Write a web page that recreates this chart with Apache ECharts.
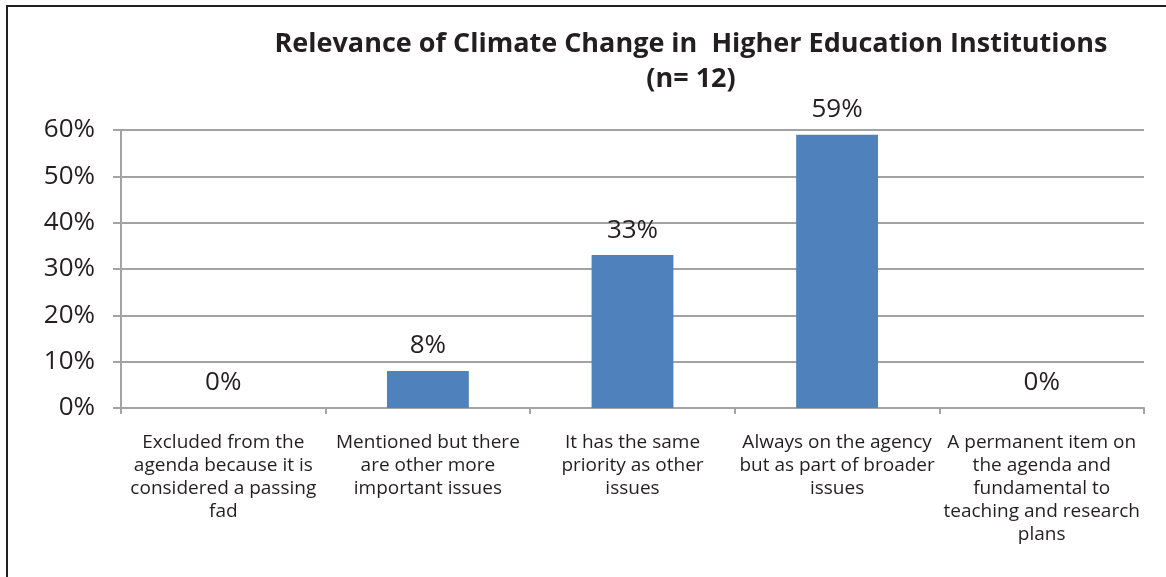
<!DOCTYPE html>
<html>
<head>
<meta charset="utf-8">
<script src="https://cdn.jsdelivr.net/npm/echarts@6/dist/echarts.min.js"></script>
<style>
  html, body { margin: 0; padding: 0; background: #fff; }
  #wrap { position: relative; width: 1166px; height: 577px; overflow: hidden; }
  #chart { position: absolute; left: 0; top: 0; width: 1166px; height: 577px; }
  #frame {
    position: absolute; left: 6px; top: 5px; width: 1170px; height: 590px;
    border-left: 2px solid #231f20; border-top: 2px solid #231f20;
    pointer-events: none; box-sizing: border-box;
  }
</style>
</head>
<body>
<div id="wrap">
  <div id="chart"></div>
  <div id="frame"></div>
</div>
<script>
// Survey answers and share of institutions choosing each (percent)
const categories = [
  'Excluded from the\nagenda because it is\nconsidered a passing\nfad',
  'Mentioned but there\nare other more\nimportant issues',
  'It has the same\npriority as other\nissues',
  'Always on the agency\nbut as part of broader\nissues',
  'A permanent item on\nthe agenda and\nfundamental to\nteaching and research\nplans'
];
const shares = [0, 8, 33, 59, 0];
const yTicks = [0, 10, 20, 30, 40, 50, 60];

const FONT = '"Open Sans", "Noto Sans", sans-serif';
const chart = echarts.init(document.getElementById('chart'), null, { renderer: 'canvas' });

chart.setOption({
  animation: false,
  backgroundColor: '#ffffff',
  title: {
    text: 'Relevance of Climate Change in  Higher Education Institutions\n(n= 12)',
    left: 686,
    textAlign: 'center',
    top: 22,
    textStyle: {
      fontFamily: FONT, fontWeight: 'bold', fontSize: 27,
      lineHeight: 35, color: '#231f20'
    }
  },
  grid: { left: 121, right: 22, top: 130, bottom: 169, containLabel: false },
  xAxis: {
    type: 'category',
    data: categories,
    boundaryGap: true,
    axisLine: { lineStyle: { color: '#a3a3a6', width: 2 } },
    axisTick: { show: true, length: 6, lineStyle: { color: '#a3a3a6', width: 2 } },
    axisLabel: {
      interval: 0, margin: 23, color: '#231f20',
      fontFamily: FONT, fontSize: 19, lineHeight: 23, align: 'center'
    }
  },
  yAxis: {
    type: 'value',
    min: yTicks[0],
    max: yTicks[yTicks.length - 1],
    interval: 10,
    axisLine: { show: true, lineStyle: { color: '#a3a3a6', width: 2 } },
    axisTick: { show: true, length: 8, lineStyle: { color: '#a3a3a6', width: 2 } },
    splitLine: { show: true, lineStyle: { color: '#a3a3a6', width: 2 } },
    axisLabel: {
      margin: 26, color: '#231f20', fontFamily: FONT, fontSize: 26,
      formatter: v => v + '%'
    }
  },
  series: [{
    type: 'bar',
    data: shares,
    barWidth: '40%',
    itemStyle: { color: '#4f81bd' },
    label: {
      show: true, position: 'top', distance: 12,
      color: '#231f20', fontFamily: FONT, fontSize: 26,
      formatter: p => p.value + '%'
    }
  }]
});
</script>
</body>
</html>
